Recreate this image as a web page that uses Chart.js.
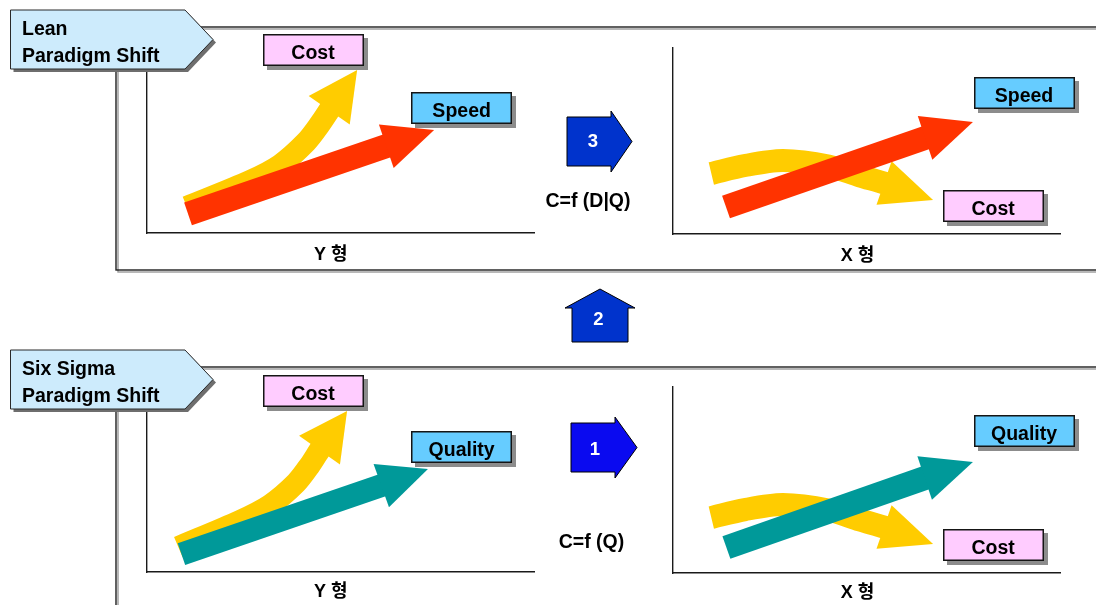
<!DOCTYPE html>
<html>
<head>
<meta charset="utf-8">
<script src="https://cdn.jsdelivr.net/npm/chart.js@4.4.1/dist/chart.umd.min.js"></script>
<style>
  html, body { margin: 0; padding: 0; background: #fff; }
  #stage { position: relative; width: 1096px; height: 605px; overflow: hidden; }
  #stage canvas { position: absolute; }
  #deco { position: absolute; left: 0; top: 0; pointer-events: none; }
  #deco text { font-family: "Liberation Sans", Arial, sans-serif; font-weight: bold; }
</style>
</head>
<body>
<div id="stage">
  <svg id="deco" width="1096" height="605" xmlns="http://www.w3.org/2000/svg"></svg>
</div>
<script>
// Each panel plots on 0–100 scales; every path is [x, y] pairs and its last pair is the arrowhead tip.
const leanYCost      = [[10.3, 14.1], [26.6, 28.1], [34.4, 36.8], [41.1, 49.2], [44.7, 58.9], [47.3, 67.0], [54.3, 88.1]];
const leanYSpeed     = [[10.6, 10.3], [62.2, 47.2], [74.2, 55.7]];
const leanXCost      = [[9.9, 32.5], [18.6, 36.8], [28.4, 39.5], [40.1, 36.6], [48.3, 31.2], [54.9, 27.2], [67.2, 18.3]];
const leanXSpeed     = [[13.7, 14.5], [65.5, 51.9], [77.5, 60.2]];
const sigmaYCost     = [[8.1, 13.5], [24.0, 27.6], [31.8, 36.2], [38.5, 48.1], [42.1, 57.8], [44.8, 66.5], [51.7, 87.0]];
const sigmaYQuality  = [[8.9, 9.7], [60.9, 47.0], [72.6, 55.7]];
const sigmaXCost     = [[9.9, 29.8], [18.6, 34.1], [28.4, 36.8], [40.1, 33.9], [48.3, 28.5], [54.9, 24.5], [67.2, 15.6]];
const sigmaXQuality  = [[13.8, 13.7], [65.4, 51.3], [77.5, 59.7]];

// Text shown on the page
const factorNames  = { cost: 'Cost', speed: 'Speed', quality: 'Quality' };
const shapeNames   = ['Y 형', 'X 형'];
const paradigms    = [['Lean', 'Paradigm Shift'], ['Six Sigma', 'Paradigm Shift']];
const formulas     = ['C=f (D|Q)', 'C=f (Q)'];
const stepNumbers  = ['1', '2', '3'];

const FONT = '"Liberation Sans", Arial, "Noto Sans CJK KR", sans-serif';
const COLORS = { cost: '#ffcc00', speed: '#ff3300', quality: '#009999', tagCost: '#ffccff', tagGoal: '#66ccff' };

// Panel placement: canvas box [left, top, width, height] and plot area [left, top, right, bottom] in page pixels
const panels = [
  { box: [118, 28, 432, 242], area: [147, 48, 534, 233], caption: shapeNames[0], capFrac: 0.475, capGap: 27,
    arrows: [
      { data: leanYSpeed, color: COLORS.speed, width: 24, head: 46, order: 1 },
      { data: leanYCost, color: COLORS.cost, width: 22, head: 50, order: 2, tension: 0.3 }
    ],
    tags: [
      { text: factorNames.cost, at: [42.9, 98.9], fill: COLORS.tagCost },
      { text: factorNames.speed, at: [81.3, 67.8], fill: COLORS.tagGoal }
    ] },
  { box: [650, 28, 440, 242], area: [673, 48, 1060, 234], caption: shapeNames[1], capFrac: 0.477, capGap: 27,
    arrows: [
      { data: leanXSpeed, color: COLORS.speed, width: 24, head: 46, order: 1 },
      { data: leanXCost, color: COLORS.cost, width: 23, head: 46, order: 2, tension: 0.3 }
    ],
    tags: [
      { text: factorNames.speed, at: [90.7, 75.8], fill: COLORS.tagGoal },
      { text: factorNames.cost, at: [82.7, 14.8], fill: COLORS.tagCost }
    ] },
  { box: [118, 368, 432, 237], area: [147, 387, 534, 572], caption: shapeNames[0], capFrac: 0.475, capGap: 25,
    arrows: [
      { data: sigmaYQuality, color: COLORS.quality, width: 23, head: 46, order: 1 },
      { data: sigmaYCost, color: COLORS.cost, width: 22, head: 50, order: 2, tension: 0.3 }
    ],
    tags: [
      { text: factorNames.cost, at: [42.9, 98.1], fill: COLORS.tagCost },
      { text: factorNames.quality, at: [81.3, 67.6], fill: COLORS.tagGoal }
    ] },
  { box: [650, 368, 440, 237], area: [673, 387, 1060, 573], caption: shapeNames[1], capFrac: 0.477, capGap: 25,
    arrows: [
      { data: sigmaXQuality, color: COLORS.quality, width: 24, head: 46, order: 1 },
      { data: sigmaXCost, color: COLORS.cost, width: 23, head: 46, order: 2, tension: 0.3 }
    ],
    tags: [
      { text: factorNames.quality, at: [90.7, 76.1], fill: COLORS.tagGoal },
      { text: factorNames.cost, at: [82.7, 15.1], fill: COLORS.tagCost }
    ] }
];

// Draws a triangular head from the second-to-last point to the last point of each path
const arrowHeads = {
  id: 'arrowHeads',
  afterDatasetDraw(chart, args) {
    const ds = chart.data.datasets[args.index];
    const pts = args.meta.data;
    const n = pts.length;
    if (!ds.headWidth || n < 2) return;
    const b = pts[n - 2], t = pts[n - 1];
    const dx = t.x - b.x, dy = t.y - b.y, len = Math.hypot(dx, dy);
    const ux = dx / len, uy = dy / len, nx = -uy, ny = ux, hw = ds.headWidth / 2;
    const bx = b.x - ux * 1.5, by = b.y - uy * 1.5;
    const ctx = chart.ctx;
    ctx.save();
    ctx.fillStyle = ds.borderColor;
    ctx.beginPath();
    ctx.moveTo(bx + nx * hw, by + ny * hw);
    ctx.lineTo(t.x, t.y);
    ctx.lineTo(bx - nx * hw, by - ny * hw);
    ctx.closePath();
    ctx.fill();
    ctx.restore();
  }
};

function panelPlugins(panel) {
  return [
    {
      id: 'shapeCaption',
      afterDraw(chart) {
        const a = chart.chartArea, ctx = chart.ctx;
        ctx.save();
        ctx.font = 'bold 18px ' + FONT;
        ctx.fillStyle = '#000';
        ctx.textAlign = 'center';
        ctx.textBaseline = 'alphabetic';
        ctx.fillText(panel.caption, a.left + panel.capFrac * (a.right - a.left), a.bottom + panel.capGap);
        ctx.restore();
      }
    },
    {
      id: 'factorTags',
      afterDraw(chart) {
        const ctx = chart.ctx, sx = chart.scales.x, sy = chart.scales.y;
        const w = 101, h = 32;
        panel.tags.forEach(tag => {
          const cx = sx.getPixelForValue(tag.at[0]);
          const cy = sy.getPixelForValue(tag.at[1]);
          const l = Math.round(cx - w / 2), tp = Math.round(cy - h / 2);
          ctx.save();
          ctx.fillStyle = '#8c8c8c';
          ctx.fillRect(l + 4, tp + 4, w, h);
          ctx.fillStyle = tag.fill;
          ctx.fillRect(l, tp, w, h);
          ctx.strokeStyle = '#151515';
          ctx.lineWidth = 1.5;
          ctx.strokeRect(l + 0.75, tp + 0.75, w - 1.5, h - 1.5);
          ctx.font = 'bold 19.5px ' + FONT;
          ctx.fillStyle = '#000';
          ctx.textAlign = 'center';
          ctx.textBaseline = 'alphabetic';
          ctx.fillText(tag.text, cx, tp + h / 2 + 8.5);
          ctx.restore();
        });
      }
    },
    arrowHeads
  ];
}

const stage = document.getElementById('stage');
const deco = document.getElementById('deco');

panels.forEach(panel => {
  const [bl, bt, bw, bh] = panel.box;
  const [al, at, ar, ab] = panel.area;
  const canvas = document.createElement('canvas');
  canvas.width = bw; canvas.height = bh;
  canvas.style.left = bl + 'px'; canvas.style.top = bt + 'px';
  canvas.style.width = bw + 'px'; canvas.style.height = bh + 'px';
  stage.insertBefore(canvas, deco);

  const datasets = panel.arrows.map(arrow => {
    const last = arrow.data.length - 1;
    return {
      data: arrow.data.map(([x, y]) => ({ x, y })),
      showLine: true,
      borderColor: arrow.color,
      backgroundColor: arrow.color,
      borderWidth: arrow.width,
      borderCapStyle: 'butt',
      borderJoinStyle: 'round',
      tension: arrow.tension || 0,
      pointRadius: 0,
      pointHoverRadius: 0,
      clip: false,
      order: arrow.order,
      headWidth: arrow.head,
      segment: {
        borderColor: ctx => (ctx.p1DataIndex === last ? 'rgba(0,0,0,0)' : undefined)
      }
    };
  });

  new Chart(canvas, {
    type: 'scatter',
    data: { datasets },
    options: {
      responsive: false,
      maintainAspectRatio: false,
      devicePixelRatio: 1,
      animation: false,
      events: [],
      layout: { padding: { left: al - bl, top: at - bt, right: bl + bw - ar, bottom: bt + bh - ab } },
      plugins: { legend: { display: false }, tooltip: { enabled: false } },
      scales: {
        x: {
          type: 'linear', min: 0, max: 100,
          ticks: { display: false },
          grid: { display: false, drawTicks: false },
          border: { display: true, color: '#1a1a1a', width: 1.4 }
        },
        y: {
          type: 'linear', min: 0, max: 100,
          ticks: { display: false },
          grid: { display: false, drawTicks: false },
          border: { display: true, color: '#1a1a1a', width: 1.4 }
        }
      }
    },
    plugins: panelPlugins(panel)
  });
});

// Frames, section headers, step arrows and formulas
const NS = 'http://www.w3.org/2000/svg';
function el(tag, attrs, text) {
  const e = document.createElementNS(NS, tag);
  for (const k in attrs) e.setAttribute(k, attrs[k]);
  if (text !== undefined) e.textContent = text;
  deco.appendChild(e);
  return e;
}
function frame(x, y, w, h) {
  el('rect', { x: x + 2, y: y + 2, width: w, height: h, fill: 'none', stroke: '#9a9a9a', 'stroke-width': 1.4 });
  el('rect', { x: x, y: y, width: w, height: h, fill: 'none', stroke: '#1e1e1e', 'stroke-width': 1.4 });
}
function header(top, lines) {
  const mid = top + 29.5, bottom = top + 59;
  const pts = [[10.5, top], [185, top], [213, mid], [185, bottom], [10.5, bottom]];
  const shifted = pts.map(([x, y]) => (x + 3) + ',' + (y + 3)).join(' ');
  el('polygon', { points: shifted, fill: '#6e6e6e' });
  el('polygon', { points: pts.map(p => p.join(',')).join(' '), fill: '#cdebfc', stroke: '#2a2a2a', 'stroke-width': 1 });
  el('text', { x: 22, y: top + 25, 'font-size': '19.5px', fill: '#000' }, lines[0]);
  el('text', { x: 22, y: top + 52, 'font-size': '19.5px', fill: '#000' }, lines[1]);
}
function stepArrow(points, fill, label, tx, ty) {
  el('polygon', { points: points.map(p => p.join(',')).join(' '), fill: fill, stroke: '#000', 'stroke-width': 1 });
  el('text', { x: tx, y: ty, 'font-size': '18.5px', fill: '#fff', 'text-anchor': 'middle' }, label);
}

frame(116, 27, 1010, 243);
frame(116, 367, 1010, 300);
header(10, paradigms[0]);
header(350, paradigms[1]);

stepArrow([[567, 117], [611, 117], [611, 111], [632, 141.5], [611, 172], [611, 166], [567, 166]], '#0033cc', stepNumbers[2], 593, 146.5);
stepArrow([[572, 342], [572, 308], [565, 308], [600, 289], [635, 308], [628, 308], [628, 342]], '#0033cc', stepNumbers[1], 598.5, 325);
stepArrow([[571, 423], [615, 423], [615, 417], [637, 447.5], [615, 478], [615, 472], [571, 472]], '#0a0af0', stepNumbers[0], 595, 454.5);

el('text', { x: 588, y: 206.5, 'font-size': '19.5px', fill: '#000', 'text-anchor': 'middle' }, formulas[0]);
el('text', { x: 591.5, y: 547.5, 'font-size': '19.5px', fill: '#000', 'text-anchor': 'middle' }, formulas[1]);
</script>
</body>
</html>
